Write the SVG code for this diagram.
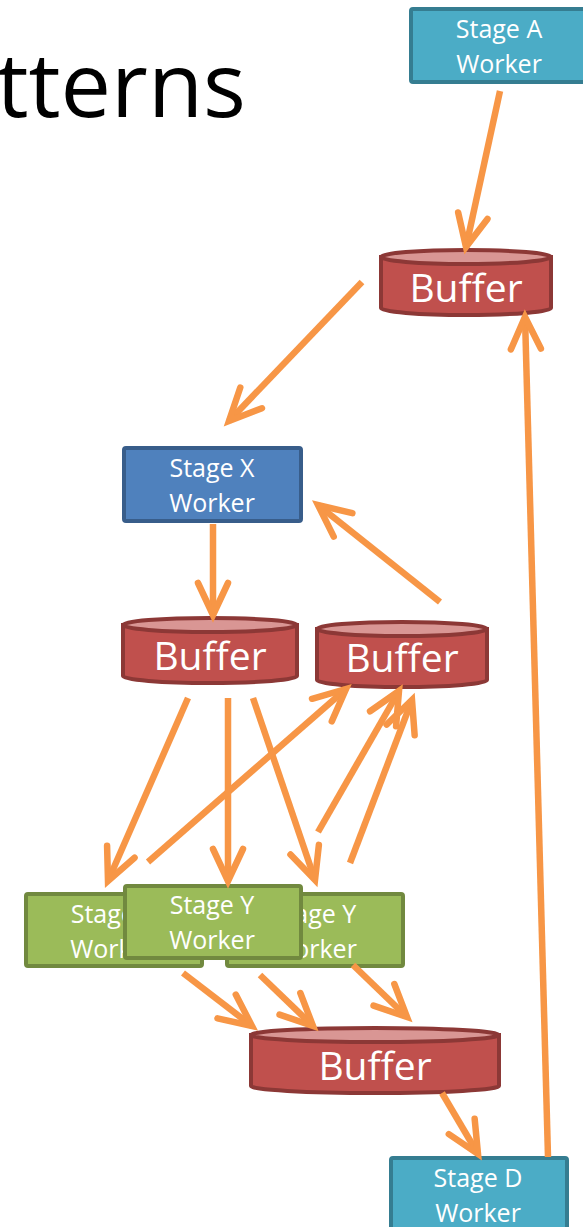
<svg xmlns="http://www.w3.org/2000/svg" width="583" height="1227" viewBox="0 0 583 1227">
<defs>
<style>
.lbl{font-family:"Open Sans","DejaVu Sans",sans-serif;fill:#fff;text-anchor:middle}
.w{font-size:25px}
.b{font-size:39px}
.boxA{fill:#4BACC6;stroke:#357D91;stroke-width:4}
.boxX{fill:#4F81BD;stroke:#385D8A;stroke-width:4}
.boxY{fill:#9BBB59;stroke:#71893F;stroke-width:4}
.cyl{fill:#C0504D;stroke:#8C3836;stroke-width:4}
.cylTop{fill:#D99694;stroke:#8C3836;stroke-width:4}
.conn line{stroke:#F79646;stroke-width:6.5;fill:none;marker-end:url(#ah)}
</style>
<marker id="ah" viewBox="-40 -25 50 50" refX="0" refY="0" markerUnits="userSpaceOnUse" markerWidth="50" markerHeight="50" orient="auto">
<path d="M-32,-15 L0,0 L-32,15" fill="none" stroke="#F79646" stroke-width="6.5" stroke-linecap="round" stroke-linejoin="miter"/>
</marker>
</defs>
<rect width="583" height="1227" fill="#fff"/>
<text x="246" y="117" font-family="'Open Sans','DejaVu Sans',sans-serif" font-size="90" fill="#000" text-anchor="end">tterns</text>

<g id="stageA">
<rect class="boxA" x="411" y="9" width="178" height="73" rx="2"/>
<text class="lbl w" x="499" y="38">Stage A</text>
<text class="lbl w" x="499" y="73">Worker</text>
</g>

<g id="buffer1">
<path class="cyl" d="M381,257 L381,308 A85,7 0 0 0 551,308 L551,257 Z"/>
<ellipse class="cylTop" cx="466" cy="257" rx="85" ry="7"/>
<text class="lbl b" x="466" y="302">Buffer</text>
</g>

<g id="stageX">
<rect class="boxX" x="124" y="448" width="177" height="73" rx="2"/>
<text class="lbl w" x="212" y="477">Stage X</text>
<text class="lbl w" x="212" y="512">Worker</text>
</g>

<g id="buffer2">
<path class="cyl" d="M123,625 L123,676 A87,7 0 0 0 297,676 L297,625 Z"/>
<ellipse class="cylTop" cx="210" cy="625" rx="87" ry="7"/>
<text class="lbl b" x="210" y="670">Buffer</text>
</g>

<g id="buffer3">
<path class="cyl" d="M317,629 L317,680 A85,7 0 0 0 487,680 L487,629 Z"/>
<ellipse class="cylTop" cx="402" cy="629" rx="85" ry="7"/>
<text class="lbl b" x="402" y="672">Buffer</text>
</g>

<g id="stageY1">
<rect class="boxY" x="26" y="894" width="176" height="72" rx="2"/>
<text class="lbl w" x="113" y="923">Stage Y</text>
<text class="lbl w" x="113" y="958">Worker</text>
</g>

<g id="stageY3">
<rect class="boxY" x="227" y="894" width="176" height="72" rx="2"/>
<text class="lbl w" x="314" y="923">Stage Y</text>
<text class="lbl w" x="314" y="958">Worker</text>
</g>

<g id="stageY2">
<rect class="boxY" x="125" y="886" width="176" height="72" rx="2"/>
<text class="lbl w" x="212" y="914">Stage Y</text>
<text class="lbl w" x="212" y="949">Worker</text>
</g>

<g id="buffer4">
<path class="cyl" d="M251,1035 L251,1086 A124,7 0 0 0 499,1086 L499,1035 Z"/>
<ellipse class="cylTop" cx="375" cy="1035" rx="124" ry="7"/>
<text class="lbl b" x="375" y="1080">Buffer</text>
</g>

<g id="stageD">
<rect class="boxD boxA" x="391" y="1158" width="176" height="80" rx="2"/>
<text class="lbl w" x="478" y="1187">Stage D</text>
<text class="lbl w" x="478" y="1222">Worker</text>
</g>

<g id="connectors" class="conn">
<line x1="500" y1="91" x2="466" y2="247"/>
<line x1="362" y1="282" x2="229" y2="421"/>
<line x1="213" y1="524" x2="213" y2="615"/>
<line x1="440" y1="602" x2="318" y2="505"/>
<line x1="188" y1="698" x2="108" y2="881"/>
<line x1="228" y1="698" x2="228" y2="881"/>
<line x1="253" y1="698" x2="315" y2="880"/>
<line x1="148" y1="862" x2="346" y2="689"/>
<line x1="318" y1="832" x2="399" y2="691"/>
<line x1="350" y1="863" x2="412" y2="700"/>
<line x1="183" y1="973" x2="252" y2="1026"/>
<line x1="260" y1="975" x2="313" y2="1026"/>
<line x1="353" y1="965" x2="407" y2="1017"/>
<line x1="442" y1="1093" x2="478" y2="1154"/>
<line x1="548" y1="1157" x2="525" y2="317"/>
</g>
</svg>
